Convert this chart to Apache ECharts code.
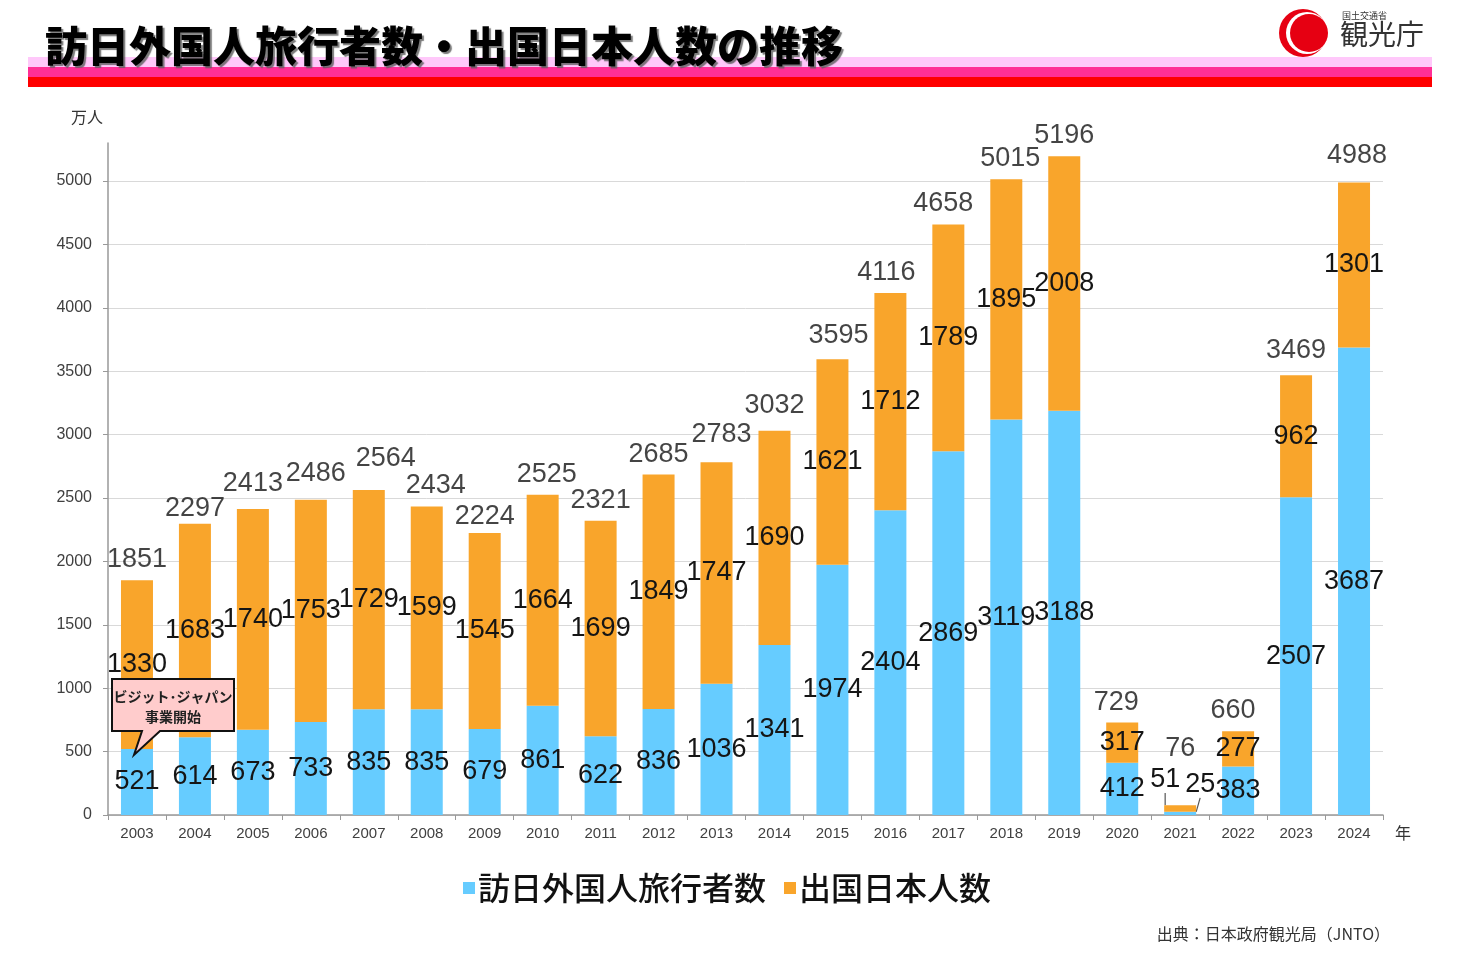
<!DOCTYPE html>
<html>
<head>
<meta charset="utf-8">
<script src="https://cdn.jsdelivr.net/npm/echarts@6/dist/echarts.min.js"></script>
<style>
html,body{margin:0;padding:0;background:#fff;}
#main{width:1476px;height:959px;}
</style>
</head>
<body>
<div id="main"></div>
<script>
// ---- data ----
const years = ['2003','2004','2005','2006','2007','2008','2009','2010','2011','2012','2013','2014','2015','2016','2017','2018','2019','2020','2021','2022','2023','2024'];
const inbound = [521,614,673,733,835,835,679,861,622,836,1036,1341,1974,2404,2869,3119,3188,412,25,383,2507,3687];
const outbound = [1330,1683,1740,1753,1729,1599,1545,1664,1699,1849,1747,1690,1621,1712,1789,1895,2008,317,51,277,962,1301];
const totals = [1851,2297,2413,2486,2564,2434,2224,2525,2321,2685,2783,3032,3595,4116,4658,5015,5196,729,76,660,3469,4988];
const yTicks = [0,500,1000,1500,2000,2500,3000,3500,4000,4500,5000];

// ---- style (label nudges, not data) ----
const totalNudge = {1:[0,5],2:[0,-5],3:[5,-6],4:[17,-11],5:[9,0],6:[0,4],7:[4,0],10:[5,-7],11:[0,-5],12:[6,-3],13:[-4,0],14:[-5,0],15:[4,0],17:[-6,0],18:[0,-36],19:[-5,0],20:[0,-4],21:[3,-7]};
const smallIdx = 18; // 2021 labels moved out with leader lines

const NUM_FONT = '"Liberation Sans", Arial, sans-serif';
const JP_FONT = '"Noto Sans CJK JP", "Noto Sans", sans-serif';
const BLUE = '#66CCFF';
const ORANGE = '#F9A52B';

const chart = echarts.init(document.getElementById('main'), null, {renderer: 'canvas'});

const numLabel = {
  show: true,
  position: 'inside',
  fontFamily: NUM_FONT,
  fontSize: 27,
  color: '#151515'
};

const splitColors = yTicks.map(() => '#d9d9d9').concat(['rgba(0,0,0,0)']);

const option = {
  backgroundColor: '#ffffff',
  animation: false,
  title: {
    text: '訪日外国人旅行者数・出国日本人数の推移',
    left: 40,
    top: 20,
    z: 10,
    textStyle: {
      fontFamily: JP_FONT,
      fontSize: 42,
      fontWeight: 900,
      color: '#000',
      textShadowColor: 'rgba(90,90,90,0.8)',
      textShadowOffsetX: 2,
      textShadowOffsetY: 2,
      textShadowBlur: 1
    }
  },
  legend: {
    data: ['訪日外国人旅行者数', '出国日本人数'],
    left: 458,
    top: 867,
    icon: 'rect',
    itemWidth: 12,
    itemHeight: 12,
    itemGap: 18,
    textStyle: {fontFamily: JP_FONT, fontSize: 32, fontWeight: 500, color: '#111', padding: [0,0,0,-2]}
  },
  grid: {left: 108, right: 93, top: 143, bottom: 144, containLabel: false},
  xAxis: {
    type: 'category',
    data: years,
    name: '年',
    nameLocation: 'end',
    nameGap: 12,
    nameTextStyle: {fontFamily: JP_FONT, fontSize: 16, color: '#333', verticalAlign: 'top', padding: [10,0,0,0]},
    axisLine: {show: true, lineStyle: {color: '#999', width: 1.5}},
    axisTick: {show: true, length: 5, lineStyle: {color: '#999'}},
    axisLabel: {fontFamily: NUM_FONT, fontSize: 15, color: '#404040', margin: 11}
  },
  yAxis: {
    type: 'value',
    min: 0,
    max: 5300,
    interval: 500,
    name: '万人',
    nameLocation: 'end',
    nameGap: 18,
    nameTextStyle: {fontFamily: JP_FONT, fontSize: 16, color: '#333', padding: [0,42,0,0]},
    axisLine: {show: true, lineStyle: {color: '#999', width: 1.5}},
    axisTick: {show: true, length: 5, lineStyle: {color: '#999'}, customValues: yTicks},
    axisLabel: {fontFamily: NUM_FONT, fontSize: 16, color: '#404040', margin: 16, customValues: yTicks, formatter: v => String(v)},
    splitLine: {show: true, lineStyle: {color: splitColors, width: 1}}
  },
  series: [
    {
      name: '訪日外国人旅行者数',
      type: 'bar',
      stack: 'total',
      barWidth: 32,
      itemStyle: {color: BLUE},
      label: numLabel,
      labelLine: {show: false, lineStyle: {color: '#555', width: 1.2}},
      labelLayout: function (p) {
        if (p.dataIndex === smallIdx) return {dx: 20, dy: -29};
        return {};
      },
      data: inbound.map((v, i) => i === smallIdx ? {value: v, labelLine: {show: true, length2: 0}} : v),
      silent: true
    },
    {
      name: '出国日本人数',
      type: 'bar',
      stack: 'total',
      barWidth: 32,
      itemStyle: {color: ORANGE},
      label: numLabel,
      labelLine: {show: false, lineStyle: {color: '#555', width: 1.2}},
      labelLayout: function (p) {
        if (p.dataIndex === smallIdx) return {dx: -15, dy: -29};
        return {};
      },
      data: outbound.map((v, i) => i === smallIdx ? {value: v, labelLine: {show: true, length2: 0}} : v),
      silent: true
    },
    {
      name: 'total',
      type: 'scatter',
      symbolSize: 0,
      silent: true,
      label: {
        show: true,
        position: 'top',
        distance: 7,
        fontFamily: NUM_FONT,
        fontSize: 27,
        color: '#151515',
        formatter: p => String(p.value)
      },
      labelLayout: function (p) {
        const n = totalNudge[p.dataIndex];
        return n ? {dx: n[0], dy: n[1]} : {};
      },
      data: totals,
      z: 5
    }
  ],
  graphic: [
    // header bands
    {type: 'rect', z: 1, shape: {x: 28, y: 57, width: 1404, height: 10}, style: {fill: '#FFC8FA'}},
    {type: 'rect', z: 1, shape: {x: 28, y: 67, width: 1404, height: 10}, style: {fill: '#FF2F96'}},
    {type: 'rect', z: 1, shape: {x: 28, y: 77, width: 1404, height: 10}, style: {fill: '#FF0000'}},
    // logo
    {type: 'circle', z: 2, shape: {cx: 1303, cy: 33, r: 24}, style: {fill: '#E60012'}},
    {type: 'circle', z: 2, shape: {cx: 1307, cy: 33, r: 21}, style: {fill: '#ffffff'}},
    {type: 'circle', z: 2, shape: {cx: 1309, cy: 33, r: 19}, style: {fill: '#E60012'}},
    {type: 'text', z: 2, left: 1342, top: 11, style: {text: '国土交通省', font: '9px "Noto Sans CJK JP"', fill: '#333'}},
    {type: 'text', z: 2, left: 1340, top: 20, style: {text: '観光庁', font: '28px "Noto Sans CJK JP"', fill: '#333'}},
    // callout
    {
      type: 'polygon', z: 20,
      shape: {points: [[112,679],[234,679],[234,731],[160,731],[134,755],[142,731],[112,731]]},
      style: {fill: '#FFCCCC', stroke: '#111', lineWidth: 2}
    },
    {type: 'text', z: 21, x: 173, y: 697, style: {text: 'ビジット･ジャパン', font: 'bold 14px "Noto Sans CJK JP"', fill: '#222', align: 'center', verticalAlign: 'middle'}},
    {type: 'text', z: 21, x: 173, y: 717, style: {text: '事業開始', font: 'bold 14px "Noto Sans CJK JP"', fill: '#222', align: 'center', verticalAlign: 'middle'}},
    // source
    {type: 'text', z: 2, x: 1390, y: 934, style: {text: '出典：日本政府観光局（JNTO）', font: '16px "Noto Sans CJK JP"', fill: '#333', align: 'right', verticalAlign: 'middle'}}
  ]
};

chart.setOption(option);
</script>
</body>
</html>
